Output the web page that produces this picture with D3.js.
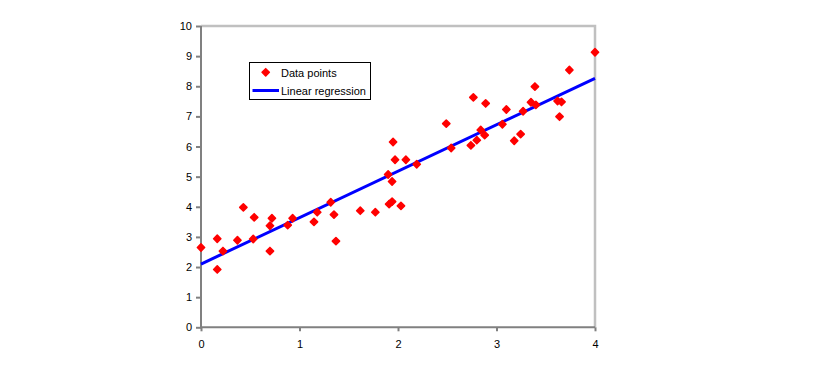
<!DOCTYPE html>
<html>
<head>
<meta charset="utf-8">
<script src="https://cdn.jsdelivr.net/npm/d3@7"></script>
<style>
html,body{margin:0;padding:0;background:#fff;}
svg text{font-family:"Liberation Sans",Arial,sans-serif;font-size:11px;fill:#000;}
</style>
</head>
<body>
<svg id="chart" width="814" height="371"></svg>
<script>
(function(){
const xValues = [0.00,0.165,0.165,0.223,0.37,0.43,0.54,0.53,0.70,0.70,0.72,0.88,0.93,1.147,1.18,1.317,1.35,1.37,1.617,1.77,1.91,1.94,1.90,1.94,1.95,1.97,2.08,2.19,2.03,2.49,2.54,2.74,2.80,2.84,2.88,2.89,2.765,3.10,3.06,3.18,3.245,3.27,3.35,3.39,3.40,3.62,3.66,3.64,3.74,4.00];
const yValues = [2.65,2.94,1.92,2.53,2.89,3.98,3.65,2.93,2.53,3.37,3.62,3.39,3.62,3.50,3.82,4.15,3.74,2.86,3.87,3.82,4.09,4.17,5.07,4.84,6.15,5.56,5.56,5.41,4.03,6.76,5.95,6.04,6.21,6.55,6.38,7.43,7.63,7.23,6.74,6.19,6.41,7.17,7.47,7.99,7.38,7.51,7.48,6.99,8.54,9.13];
const regressionX = [0, 4];
const regressionY = [2.1, 8.26];
const xTicks = [0,1,2,3,4];
const yTicks = [0,1,2,3,4,5,6,7,8,9,10];
const legendLabels = ["Data points","Linear regression"];

const svg = d3.select("#chart");
const pLeft = 201, pRight = 595, pTop = 26, pBottom = 327.3;
const x = d3.scaleLinear().domain([0,4]).range([pLeft,pRight]);
const y = d3.scaleLinear().domain([0,10]).range([pBottom,pTop]);

svg.append("path")
  .attr("d", `M${pLeft},${pTop}H${pRight}V${pBottom}`)
  .attr("fill","none").attr("stroke","#c0c0c0").attr("stroke-width",2.5);

const yAxis = svg.append("g").attr("transform",`translate(${pLeft},0)`)
  .call(d3.axisLeft(y).tickValues(yTicks).tickSize(5).tickPadding(4).tickFormat(d3.format("d")));
const xAxis = svg.append("g").attr("transform",`translate(0,${pBottom})`)
  .call(d3.axisBottom(x).tickValues(xTicks).tickSize(4).tickPadding(9).tickFormat(d3.format("d")));
[yAxis,xAxis].forEach(a=>{
  a.select(".domain").attr("stroke","#808080").attr("stroke-width",2);
  a.selectAll(".tick line").attr("stroke","#808080").attr("stroke-width",2);
  a.selectAll("text").attr("font-family","Liberation Sans, Arial, sans-serif").attr("font-size",11).attr("fill","#000");
});
yAxis.select(".domain").attr("d",`M0,${pBottom+1}V${pTop}`);
xAxis.select(".domain").attr("d",`M${pLeft-1},0H${pRight}`);

const line = d3.line().x(d=>x(d[0])).y(d=>y(d[1]));
svg.append("path").datum(regressionX.map((v,i)=>[v,regressionY[i]]))
  .attr("d",line).attr("fill","none").attr("stroke","#0000ff").attr("stroke-width",3);

const marker = d3.symbol().type(d3.symbolSquare).size(26);
svg.append("g").selectAll("path").data(xValues.map((v,i)=>[v,yValues[i]])).join("path")
  .attr("d",marker)
  .attr("transform",d=>`translate(${x(d[0])},${y(d[1])}) rotate(45)`)
  .attr("fill","#ff0000").attr("stroke","#ff0000").attr("stroke-width",1.6).attr("stroke-linejoin","round");

const lg = svg.append("g");
lg.append("rect").attr("x",249.5).attr("y",62.5).attr("width",121).attr("height",37)
  .attr("fill","#fff").attr("stroke","#000").attr("stroke-width",1);
lg.append("path").attr("d",marker).attr("transform","translate(265.7,72.3) rotate(45)")
  .attr("fill","#ff0000").attr("stroke","#ff0000").attr("stroke-width",1.6).attr("stroke-linejoin","round");
lg.append("text").attr("x",281).attr("y",76.5).text(legendLabels[0]);
lg.append("line").attr("x1",252.5).attr("x2",279).attr("y1",90.5).attr("y2",90.5)
  .attr("stroke","#0000ff").attr("stroke-width",3);
lg.append("text").attr("x",281).attr("y",94.5).text(legendLabels[1]);
})();
</script>
</body>
</html>
